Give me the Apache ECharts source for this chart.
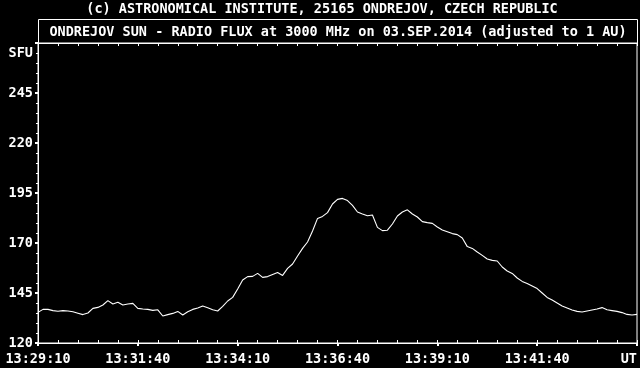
<!DOCTYPE html>
<html>
<head>
<meta charset="utf-8">
<script src="https://cdn.jsdelivr.net/npm/echarts@6/dist/echarts.min.js"></script>
<style>
html,body{margin:0;padding:0;background:#000;}
#chart{width:640px;height:368px;}
</style>
</head>
<body>
<div id="chart"></div>
<script>
// ---- data ----
const titleText = '(c) ASTRONOMICAL INSTITUTE, 25165 ONDREJOV, CZECH REPUBLIC';
const subtitleText = 'ONDREJOV SUN - RADIO FLUX at 3000 MHz on 03.SEP.2014 (adjusted to 1 AU)';
const xTickLabels = ['13:29:10', '13:31:40', '13:34:10', '13:36:40', '13:39:10', '13:41:40', 'UT'];
const yTickLabels = ['120', '145', '170', '195', '220', '245'];
const yUnitLabel = 'SFU';
const startSeconds = 0;      // 13:29:10
const sampleStep = 7.5;      // seconds between samples
const fluxSFU = [
  135.3, 136.8, 136.8, 136.2, 135.9, 136.2, 136.0, 135.6, 134.9, 134.2,
  135.0, 137.3, 137.8, 139.0, 141.2, 139.5, 140.4, 139.0, 139.5, 139.8,
  137.3, 137.0, 136.8, 136.3, 136.6, 133.5, 134.2, 134.8, 135.8, 134.0,
  135.6, 136.8, 137.5, 138.5, 137.6, 136.6, 136.0, 138.3, 141.0, 142.8,
  147.0, 151.5, 153.2, 153.3, 154.8, 152.8, 153.2, 154.3, 155.2, 153.8,
  157.3, 159.5, 163.5, 167.3, 170.5, 176.0, 182.3, 183.3, 185.2, 189.5,
  191.8, 192.3, 191.2, 188.8, 185.5, 184.5, 183.6, 184.0, 177.8, 176.2,
  176.4, 179.5, 183.5, 185.5, 186.6, 184.5, 183.0, 180.7, 180.2, 179.8,
  178.0, 176.5, 175.6, 174.7, 174.2, 172.5, 168.2, 167.3, 165.5, 163.8,
  162.0, 161.3, 161.0, 158.0, 156.0, 154.8, 152.5, 150.8, 149.8, 148.5,
  147.2, 145.0, 142.8, 141.5, 140.0, 138.5, 137.5, 136.5, 135.8, 135.5,
  136.0, 136.5, 137.0, 137.7, 136.6, 136.2, 135.8, 135.2, 134.3, 134.0,
  134.3
];

const seriesData = fluxSFU.map((v, i) => [startSeconds + i * sampleStep, v]);

const FONT = 'DejaVu Sans Mono';
const FS = 13.5;
const chart = echarts.init(document.getElementById('chart'), null, {renderer: 'canvas'});
const labelStyle = {color: '#fff', fontFamily: FONT, fontWeight: 'bold', fontSize: FS};

chart.setOption({
  backgroundColor: '#000',
  animation: false,
  title: [
    {text: titleText, left: 322, textAlign: 'center', top: 2, padding: 0,
     textStyle: {color: '#fff', fontFamily: FONT, fontWeight: 'bold', fontSize: FS}},
    {text: subtitleText, left: 338, textAlign: 'center', top: 25, padding: 0,
     textStyle: {color: '#fff', fontFamily: FONT, fontWeight: 'bold', fontSize: FS}}
  ],
  graphic: [
    {type: 'rect', shape: {x: 38.5, y: 19.5, width: 599, height: 24},
     style: {fill: 'none', stroke: '#fff', lineWidth: 1}, silent: true}
  ],
  grid: {left: 38, right: 3, top: 43, bottom: 25, show: true, borderColor: '#fff', borderWidth: 1, backgroundColor: 'transparent'},
  xAxis: [
    {type: 'value', position: 'bottom', min: 0, max: 900, interval: 150,
     axisLine: {show: true, lineStyle: {color: '#fff', width: 1}},
     axisTick: {show: true, length: 3, lineStyle: {color: '#fff', width: 2}},
     splitLine: {show: false},
     axisLabel: {...labelStyle, margin: 9, alignMaxLabel: 'right',
       formatter: (v) => xTickLabels[Math.round(v / 150)] || ''}},
    {type: 'value', position: 'bottom', min: 0, max: 900, interval: 30,
     axisLine: {show: false},
     axisTick: {show: true, inside: true, length: 3, lineStyle: {color: '#fff', width: 1}},
     splitLine: {show: false}, axisLabel: {show: false}},
    {type: 'value', position: 'top', min: 0, max: 900, interval: 30,
     axisLine: {show: true, lineStyle: {color: '#fff', width: 1}},
     axisTick: {show: true, inside: true, length: 3, lineStyle: {color: '#fff', width: 1}},
     splitLine: {show: false}, axisLabel: {show: false}}
  ],
  yAxis: [
    {type: 'value', position: 'left', min: 120, max: 270, interval: 25,
     axisLine: {show: true, lineStyle: {color: '#fff', width: 1}},
     axisTick: {show: true, length: 3, lineStyle: {color: '#fff', width: 2}},
     splitLine: {show: false},
     axisLabel: {...labelStyle, margin: 5,
       formatter: (v) => yTickLabels.indexOf(String(v)) >= 0 ? String(v) : ''}},
    {type: 'value', position: 'left', min: 120, max: 270, interval: 5,
     axisLine: {show: false},
     axisTick: {show: true, length: 2, lineStyle: {color: '#fff', width: 1}},
     splitLine: {show: false},
     axisLabel: {...labelStyle, margin: 5, padding: [3, 0, 0, 0],
       formatter: (v) => v === 265 ? yUnitLabel : ''}}
  ],
  series: [{
    type: 'line', xAxisIndex: 0, yAxisIndex: 0, data: seriesData,
    showSymbol: false, symbol: 'none', smooth: false,
    lineStyle: {color: '#fff', width: 1.1}
  }]
});
</script>
</body>
</html>
